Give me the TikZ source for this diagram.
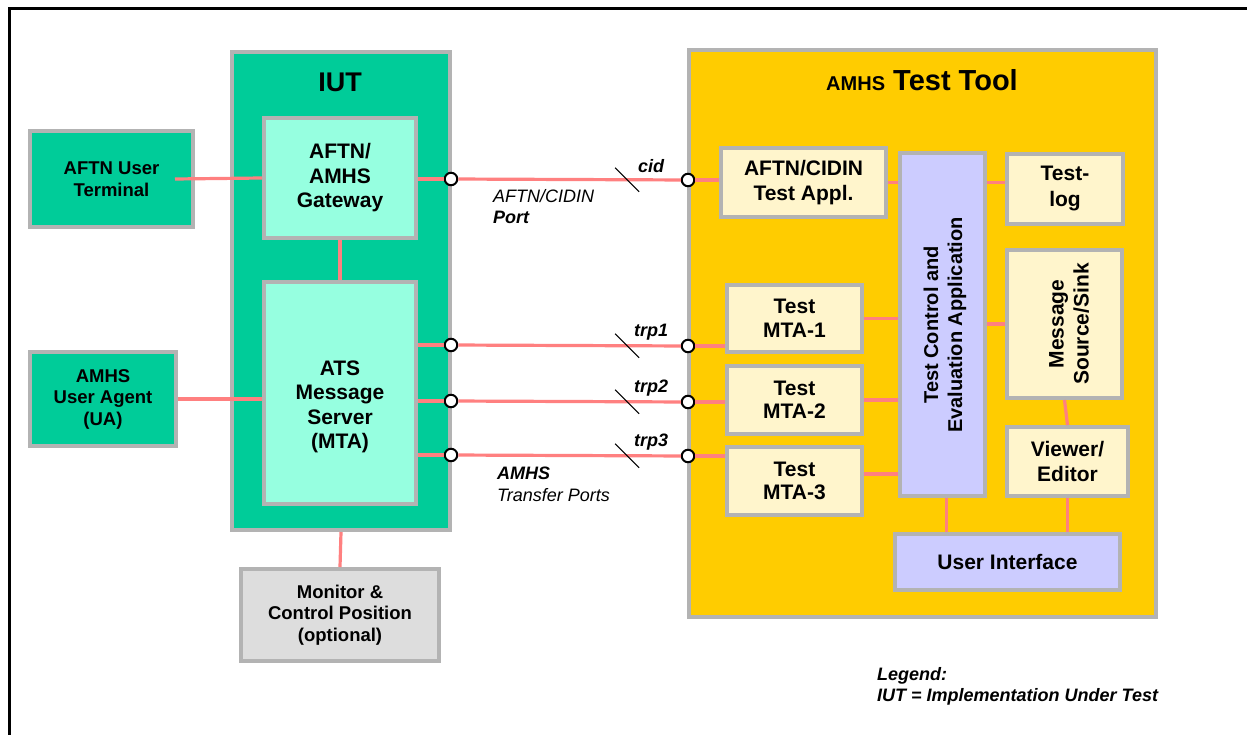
\documentclass[tikz,border=0pt]{standalone}
\usepackage{fontspec}
\setmainfont{Liberation Sans}
\usetikzlibrary{calc}
\definecolor{iutgreen}{HTML}{00CC99}
\definecolor{mint}{HTML}{96FFE0}
\definecolor{toolyellow}{HTML}{FFCC00}
\definecolor{cream}{HTML}{FFF5CC}
\definecolor{lavender}{HTML}{CCCCFF}
\definecolor{monigray}{HTML}{DDDDDD}
\definecolor{boxgray}{HTML}{B3B3B3}
\definecolor{linkred}{HTML}{FF8080}
\newcommand{\smallbox}{\fontsize{18.5}{21.5}\selectfont\bfseries}
\newcommand{\bigbox}{\fontsize{21}{24.5}\selectfont\bfseries}
\newcommand{\tagfont}{\fontsize{18}{21.5}\selectfont}

\begin{document}
\begin{tikzpicture}[x=1pt, y=-1pt,
    blk/.style={draw=boxgray, line width=4pt, inner sep=0pt, align=center, font=\bigbox},
    sz/.style 2 args={minimum width=#1pt, minimum height=#2pt},
    link/.style={draw=linkred, line width=3.2pt},
    port/.style={circle, draw=black, fill=white, line width=2pt, minimum size=12.5pt, inner sep=0pt},
    tick/.style={draw=black, line width=1.2pt},
    tag/.style={font=\tagfont\bfseries\itshape},
    note/.style={font=\tagfont, align=left, anchor=north west, inner sep=0pt}]
  \useasboundingbox (0,0) rectangle (1247,735);
  \draw[line width=3pt] (9,735) -- (9,9) -- (1247,9);

  \node[blk, fill=iutgreen, sz={218}{478}] (iut) at (341,291) {};
  \node[font=\fontsize{27}{30}\selectfont\bfseries] (iuttitle) at (340,82) {IUT};
  \node[blk, fill=iutgreen, sz={163}{96}, font=\smallbox] (term) at (111.5,179) {AFTN User\\Terminal};
  \node[blk, fill=mint, sz={152}{120}] (gw) at (340,178) {AFTN/\\AMHS\\Gateway};
  \node[blk, fill=mint, sz={152}{222}] (ats) at (340,393) {};
  \node[font=\bigbox, align=center] (atstext) at (340,407) {ATS\\Message\\Server\\(MTA)};
  \node[blk, fill=iutgreen, sz={146}{94}, font=\smallbox] (ua) at (103,399) {AMHS\\User Agent\\(UA)};
  \node[blk, fill=monigray, sz={198}{92}, font=\smallbox] (mon) at (340,615) {Monitor \&\\Control Position\\(optional)};

  \node[blk, fill=toolyellow, sz={467}{567}] (tool) at (922.5,333.5) {};
  \node (tooltitle) at (922,80) {{\fontsize{20}{24}\selectfont\bfseries AMHS}{\fontsize{29}{32}\selectfont\bfseries\ Test Tool}};
  \node[blk, fill=cream, sz={165}{69}] (cidin) at (803.5,182.5) {AFTN/CIDIN\\Test Appl.};
  \node[blk, fill=lavender, sz={85}{343}] (tc) at (942.5,324.5) {};
  \node[rotate=90, font=\fontsize{20}{24}\selectfont\bfseries, align=center] (tctext) at (945,325) {Test Control and\\Evaluation Application};
  \node[blk, fill=cream, sz={116}{70}, font=\fontsize{21}{26}\selectfont\bfseries] (log) at (1065,189) {Test-\\log};
  \node[blk, fill=cream, sz={115}{148}] (msg) at (1064.5,324) {};
  \node[rotate=90, font=\fontsize{21}{25}\selectfont\bfseries, align=center] (msgtext) at (1069,324) {Message\\Source/Sink};
  \node[blk, fill=cream, sz={121}{69}] (view) at (1067.5,461.5) {Viewer/\\Editor};
  \node[blk, fill=cream, sz={135}{67}, font=\fontsize{21}{23.5}\selectfont\bfseries] (mta1) at (794.5,318.5) {Test\\MTA-1};
  \node[blk, fill=cream, sz={135}{68}, font=\fontsize{21}{23.5}\selectfont\bfseries] (mta2) at (794.5,400) {Test\\MTA-2};
  \node[blk, fill=cream, sz={135}{68}, font=\fontsize{21}{23.5}\selectfont\bfseries] (mta3) at (794.5,481) {Test\\MTA-3};
  \node[blk, fill=lavender, sz={225}{56}] (ui) at (1007.5,562) {User Interface};

  \node[port] (p1) at (451,179) {};
  \node[port] (p2) at (451,345) {};
  \node[port] (p3) at (451,401) {};
  \node[port] (p4) at (451,455) {};
  \node[port] (q1) at (688,180) {};
  \node[port] (q2) at (688,346) {};
  \node[port] (q3) at (688,402) {};
  \node[port] (q4) at (688,456) {};

  \draw[link] ([xshift=-20pt]term.east) -- (gw.west);
  \draw[link] (ua.east) -- (ua.east -| ats.west);
  \draw[link] (gw.south) -- (ats.north);
  \draw[link] (iut.south) -- (mon.north);
  \draw[link] (gw.east |- p1) -- (p1);
  \draw[link] (ats.east |- p2) -- (p2);
  \draw[link] (ats.east |- p3) -- (p3);
  \draw[link] (ats.east |- p4) -- (p4);
  \foreach \a/\b/\t in {p1/q1/cid, p2/q2/trp1, p3/q3/trp2, p4/q4/trp3} {
    \draw[link] (\a) -- (\b);
    \coordinate (m\b) at ($(\a)!0.743!(\b)$);
    \draw[tick] ($(m\b)+(-12,-12)$) -- ($(m\b)+(12,12)$);
    \node[tag] (tag\b) at ($(m\b)+(24,-14)$) {\t};
  }
  \draw[link] (q1) -- (q1 -| cidin.west);
  \draw[link] (q2) -- (q2 -| mta1.west);
  \draw[link] (q3) -- (q3 -| mta2.west);
  \draw[link] (q4) -- (q4 -| mta3.west);
  \draw[link] (cidin.east) -- (cidin.east -| tc.west);
  \draw[link] (mta1.east) -- (mta1.east -| tc.west);
  \draw[link] (mta2.east) -- (mta2.east -| tc.west);
  \draw[link] ([yshift=7pt]mta3.east) -- ([yshift=7pt]mta3.east -| tc.west);
  \draw[link] (cidin.east -| tc.east) -- (cidin.east -| log.west);
  \draw[link] (msg.west -| tc.east) -- (msg.west);
  \draw[link] (msg.south) -- (view.north);
  \draw[link] ([xshift=4pt]tc.south) -- ([xshift=4pt]tc.south |- ui.north);
  \draw[link] (view.south) -- (view.south |- ui.north);

  \node[note] (cidnote) at (493,189) {\itshape AFTN/CIDIN\\\bfseries\itshape Port};
  \node[note] (trpnote) at (497,467) {\bfseries\itshape AMHS\\\itshape Transfer Ports};
  \node[note] (legend) at (877,667) {\bfseries\itshape Legend:\\\bfseries\itshape IUT = Implementation Under Test};
\end{tikzpicture}
\end{document}
